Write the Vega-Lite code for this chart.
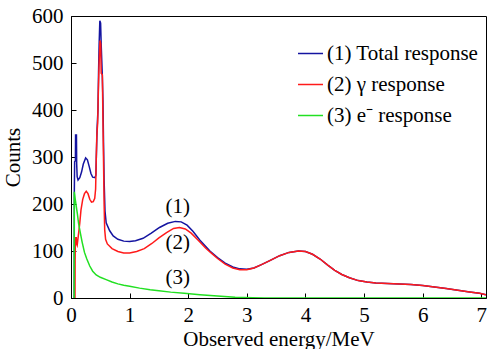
{
  "$schema": "https://vega.github.io/schema/vega-lite/v6.json",
  "width": 415,
  "height": 282,
  "autosize": {"type": "none"},
  "padding": {"left": 71, "top": 16, "right": 1, "bottom": 51},
  "background": "white",
  "config": {
    "font": "Liberation Serif",
    "view": {"stroke": "black", "strokeWidth": 1},
    "axis": {
      "grid": false,
      "domainColor": "black",
      "domainWidth": 1,
      "tickColor": "black",
      "tickWidth": 1,
      "tickSize": -5,
      "labelFlush": false,
      "labelColor": "black",
      "titleColor": "black",
      "labelFont": "Liberation Serif",
      "titleFont": "Liberation Serif",
      "labelFontSize": 21,
      "titleFontSize": 21,
      "titleFontWeight": "normal"
    }
  },
  "layer": [
    {
      "data": {
        "values": [
          {"E": 0.055, "counts": 0, "series": "(1) Total response"},
          {"E": 0.057, "counts": 230, "series": "(1) Total response"},
          {"E": 0.062, "counts": 290, "series": "(1) Total response"},
          {"E": 0.075, "counts": 292, "series": "(1) Total response"},
          {"E": 0.078, "counts": 347, "series": "(1) Total response"},
          {"E": 0.093, "counts": 347, "series": "(1) Total response"},
          {"E": 0.097, "counts": 285, "series": "(1) Total response"},
          {"E": 0.105, "counts": 258, "series": "(1) Total response"},
          {"E": 0.12, "counts": 251, "series": "(1) Total response"},
          {"E": 0.15, "counts": 256, "series": "(1) Total response"},
          {"E": 0.18, "counts": 268, "series": "(1) Total response"},
          {"E": 0.21, "counts": 285, "series": "(1) Total response"},
          {"E": 0.25, "counts": 298, "series": "(1) Total response"},
          {"E": 0.28, "counts": 294, "series": "(1) Total response"},
          {"E": 0.31, "counts": 280, "series": "(1) Total response"},
          {"E": 0.34, "counts": 265, "series": "(1) Total response"},
          {"E": 0.37, "counts": 257, "series": "(1) Total response"},
          {"E": 0.41, "counts": 256, "series": "(1) Total response"},
          {"E": 0.425, "counts": 262, "series": "(1) Total response"},
          {"E": 0.432, "counts": 300, "series": "(1) Total response"},
          {"E": 0.445, "counts": 360, "series": "(1) Total response"},
          {"E": 0.46, "counts": 400, "series": "(1) Total response"},
          {"E": 0.47, "counts": 480, "series": "(1) Total response"},
          {"E": 0.48, "counts": 540, "series": "(1) Total response"},
          {"E": 0.492, "counts": 590, "series": "(1) Total response"},
          {"E": 0.505, "counts": 585, "series": "(1) Total response"},
          {"E": 0.515, "counts": 540, "series": "(1) Total response"},
          {"E": 0.525, "counts": 505, "series": "(1) Total response"},
          {"E": 0.535, "counts": 470, "series": "(1) Total response"},
          {"E": 0.545, "counts": 420, "series": "(1) Total response"},
          {"E": 0.555, "counts": 330, "series": "(1) Total response"},
          {"E": 0.565, "counts": 250, "series": "(1) Total response"},
          {"E": 0.58, "counts": 185, "series": "(1) Total response"},
          {"E": 0.6, "counts": 160, "series": "(1) Total response"},
          {"E": 0.66, "counts": 143, "series": "(1) Total response"},
          {"E": 0.72, "counts": 132, "series": "(1) Total response"},
          {"E": 0.8, "counts": 125, "series": "(1) Total response"},
          {"E": 0.9, "counts": 121, "series": "(1) Total response"},
          {"E": 1.0, "counts": 120, "series": "(1) Total response"},
          {"E": 1.1, "counts": 122, "series": "(1) Total response"},
          {"E": 1.23, "counts": 127, "series": "(1) Total response"},
          {"E": 1.37, "counts": 138, "series": "(1) Total response"},
          {"E": 1.51, "counts": 150, "series": "(1) Total response"},
          {"E": 1.65, "counts": 159, "series": "(1) Total response"},
          {"E": 1.78, "counts": 163, "series": "(1) Total response"},
          {"E": 1.88, "counts": 162, "series": "(1) Total response"},
          {"E": 1.98, "counts": 155, "series": "(1) Total response"},
          {"E": 2.08, "counts": 142, "series": "(1) Total response"},
          {"E": 2.2, "counts": 123, "series": "(1) Total response"},
          {"E": 2.37, "counts": 100, "series": "(1) Total response"},
          {"E": 2.5, "counts": 86, "series": "(1) Total response"},
          {"E": 2.63, "counts": 74, "series": "(1) Total response"},
          {"E": 2.76, "counts": 66, "series": "(1) Total response"},
          {"E": 2.88, "counts": 62, "series": "(1) Total response"},
          {"E": 3.0, "counts": 61, "series": "(1) Total response"},
          {"E": 3.12, "counts": 64, "series": "(1) Total response"},
          {"E": 3.25, "counts": 71, "series": "(1) Total response"},
          {"E": 3.4, "counts": 80, "series": "(1) Total response"},
          {"E": 3.56, "counts": 90, "series": "(1) Total response"},
          {"E": 3.72, "counts": 97, "series": "(1) Total response"},
          {"E": 3.88, "counts": 100, "series": "(1) Total response"},
          {"E": 4.0, "counts": 99, "series": "(1) Total response"},
          {"E": 4.12, "counts": 93, "series": "(1) Total response"},
          {"E": 4.25, "counts": 83, "series": "(1) Total response"},
          {"E": 4.38, "counts": 70, "series": "(1) Total response"},
          {"E": 4.5, "counts": 59, "series": "(1) Total response"},
          {"E": 4.62, "counts": 50, "series": "(1) Total response"},
          {"E": 4.75, "counts": 43, "series": "(1) Total response"},
          {"E": 4.9, "counts": 37, "series": "(1) Total response"},
          {"E": 5.05, "counts": 34, "series": "(1) Total response"},
          {"E": 5.2, "counts": 32, "series": "(1) Total response"},
          {"E": 5.4, "counts": 31, "series": "(1) Total response"},
          {"E": 5.6, "counts": 30, "series": "(1) Total response"},
          {"E": 5.8, "counts": 28.5, "series": "(1) Total response"},
          {"E": 6.0, "counts": 26.5, "series": "(1) Total response"},
          {"E": 6.2, "counts": 23.5, "series": "(1) Total response"},
          {"E": 6.4, "counts": 20, "series": "(1) Total response"},
          {"E": 6.6, "counts": 16.5, "series": "(1) Total response"},
          {"E": 6.8, "counts": 13, "series": "(1) Total response"},
          {"E": 6.97, "counts": 10, "series": "(1) Total response"},
          {"E": 7.08, "counts": 7, "series": "(1) Total response"},

          {"E": 0.068, "counts": 0, "series": "(2) γ response"},
          {"E": 0.07, "counts": 80, "series": "(2) γ response"},
          {"E": 0.075, "counts": 128, "series": "(2) γ response"},
          {"E": 0.09, "counts": 128, "series": "(2) γ response"},
          {"E": 0.095, "counts": 115, "series": "(2) γ response"},
          {"E": 0.105, "counts": 112, "series": "(2) γ response"},
          {"E": 0.115, "counts": 122, "series": "(2) γ response"},
          {"E": 0.13, "counts": 138, "series": "(2) γ response"},
          {"E": 0.15, "counts": 160, "series": "(2) γ response"},
          {"E": 0.17, "counts": 187, "series": "(2) γ response"},
          {"E": 0.2, "counts": 210, "series": "(2) γ response"},
          {"E": 0.23, "counts": 222, "series": "(2) γ response"},
          {"E": 0.26, "counts": 227, "series": "(2) γ response"},
          {"E": 0.29, "counts": 222, "series": "(2) γ response"},
          {"E": 0.32, "counts": 210, "series": "(2) γ response"},
          {"E": 0.35, "counts": 204, "series": "(2) γ response"},
          {"E": 0.38, "counts": 205, "series": "(2) γ response"},
          {"E": 0.405, "counts": 212, "series": "(2) γ response"},
          {"E": 0.42, "counts": 232, "series": "(2) γ response"},
          {"E": 0.43, "counts": 290, "series": "(2) γ response"},
          {"E": 0.44, "counts": 345, "series": "(2) γ response"},
          {"E": 0.455, "counts": 372, "series": "(2) γ response"},
          {"E": 0.465, "counts": 430, "series": "(2) γ response"},
          {"E": 0.478, "counts": 495, "series": "(2) γ response"},
          {"E": 0.495, "counts": 548, "series": "(2) γ response"},
          {"E": 0.507, "counts": 540, "series": "(2) γ response"},
          {"E": 0.515, "counts": 478, "series": "(2) γ response"},
          {"E": 0.535, "counts": 475, "series": "(2) γ response"},
          {"E": 0.545, "counts": 380, "series": "(2) γ response"},
          {"E": 0.555, "counts": 290, "series": "(2) γ response"},
          {"E": 0.565, "counts": 200, "series": "(2) γ response"},
          {"E": 0.575, "counts": 145, "series": "(2) γ response"},
          {"E": 0.59, "counts": 125, "series": "(2) γ response"},
          {"E": 0.62, "counts": 115, "series": "(2) γ response"},
          {"E": 0.7, "counts": 105, "series": "(2) γ response"},
          {"E": 0.8, "counts": 99, "series": "(2) γ response"},
          {"E": 0.9, "counts": 96, "series": "(2) γ response"},
          {"E": 1.0, "counts": 96, "series": "(2) γ response"},
          {"E": 1.12, "counts": 99, "series": "(2) γ response"},
          {"E": 1.25, "counts": 105, "series": "(2) γ response"},
          {"E": 1.38, "counts": 116, "series": "(2) γ response"},
          {"E": 1.5, "counts": 128, "series": "(2) γ response"},
          {"E": 1.63, "counts": 139, "series": "(2) γ response"},
          {"E": 1.75, "counts": 148, "series": "(2) γ response"},
          {"E": 1.85, "counts": 150, "series": "(2) γ response"},
          {"E": 1.95, "counts": 147, "series": "(2) γ response"},
          {"E": 2.05, "counts": 138, "series": "(2) γ response"},
          {"E": 2.17, "counts": 123, "series": "(2) γ response"},
          {"E": 2.3, "counts": 106, "series": "(2) γ response"},
          {"E": 2.37, "counts": 98, "series": "(2) γ response"},
          {"E": 2.5, "counts": 84, "series": "(2) γ response"},
          {"E": 2.63, "counts": 72, "series": "(2) γ response"},
          {"E": 2.76, "counts": 64, "series": "(2) γ response"},
          {"E": 2.88, "counts": 60, "series": "(2) γ response"},
          {"E": 3.0, "counts": 60, "series": "(2) γ response"},
          {"E": 3.12, "counts": 64, "series": "(2) γ response"},
          {"E": 3.25, "counts": 71, "series": "(2) γ response"},
          {"E": 3.4, "counts": 80, "series": "(2) γ response"},
          {"E": 3.56, "counts": 90, "series": "(2) γ response"},
          {"E": 3.72, "counts": 97, "series": "(2) γ response"},
          {"E": 3.88, "counts": 100, "series": "(2) γ response"},
          {"E": 4.0, "counts": 99, "series": "(2) γ response"},
          {"E": 4.12, "counts": 93, "series": "(2) γ response"},
          {"E": 4.25, "counts": 83, "series": "(2) γ response"},
          {"E": 4.38, "counts": 70, "series": "(2) γ response"},
          {"E": 4.5, "counts": 59, "series": "(2) γ response"},
          {"E": 4.62, "counts": 50, "series": "(2) γ response"},
          {"E": 4.75, "counts": 43, "series": "(2) γ response"},
          {"E": 4.9, "counts": 37, "series": "(2) γ response"},
          {"E": 5.05, "counts": 34, "series": "(2) γ response"},
          {"E": 5.2, "counts": 32, "series": "(2) γ response"},
          {"E": 5.4, "counts": 31, "series": "(2) γ response"},
          {"E": 5.6, "counts": 30, "series": "(2) γ response"},
          {"E": 5.8, "counts": 28.5, "series": "(2) γ response"},
          {"E": 6.0, "counts": 26.5, "series": "(2) γ response"},
          {"E": 6.2, "counts": 23.5, "series": "(2) γ response"},
          {"E": 6.4, "counts": 20, "series": "(2) γ response"},
          {"E": 6.6, "counts": 16.5, "series": "(2) γ response"},
          {"E": 6.8, "counts": 13, "series": "(2) γ response"},
          {"E": 6.97, "counts": 10, "series": "(2) γ response"},
          {"E": 7.08, "counts": 7, "series": "(2) γ response"},

          {"E": 0.053, "counts": 0, "series": "(3) e⁻ response"},
          {"E": 0.056, "counts": 226, "series": "(3) e⁻ response"},
          {"E": 0.07, "counts": 212, "series": "(3) e⁻ response"},
          {"E": 0.09, "counts": 195, "series": "(3) e⁻ response"},
          {"E": 0.11, "counts": 178, "series": "(3) e⁻ response"},
          {"E": 0.13, "counts": 158, "series": "(3) e⁻ response"},
          {"E": 0.16, "counts": 138, "series": "(3) e⁻ response"},
          {"E": 0.19, "counts": 119, "series": "(3) e⁻ response"},
          {"E": 0.23, "counts": 97, "series": "(3) e⁻ response"},
          {"E": 0.27, "counts": 83, "series": "(3) e⁻ response"},
          {"E": 0.32, "counts": 68, "series": "(3) e⁻ response"},
          {"E": 0.37, "counts": 57, "series": "(3) e⁻ response"},
          {"E": 0.43, "counts": 49, "series": "(3) e⁻ response"},
          {"E": 0.5, "counts": 44, "series": "(3) e⁻ response"},
          {"E": 0.6, "counts": 39, "series": "(3) e⁻ response"},
          {"E": 0.7, "counts": 34, "series": "(3) e⁻ response"},
          {"E": 0.8, "counts": 30, "series": "(3) e⁻ response"},
          {"E": 0.9, "counts": 27, "series": "(3) e⁻ response"},
          {"E": 1.0, "counts": 25, "series": "(3) e⁻ response"},
          {"E": 1.17, "counts": 21, "series": "(3) e⁻ response"},
          {"E": 1.35, "counts": 17.5, "series": "(3) e⁻ response"},
          {"E": 1.5, "counts": 15.5, "series": "(3) e⁻ response"},
          {"E": 1.7, "counts": 12.5, "series": "(3) e⁻ response"},
          {"E": 1.93, "counts": 10, "series": "(3) e⁻ response"},
          {"E": 2.2, "counts": 7, "series": "(3) e⁻ response"},
          {"E": 2.5, "counts": 4, "series": "(3) e⁻ response"},
          {"E": 2.8, "counts": 1.5, "series": "(3) e⁻ response"},
          {"E": 3.1, "counts": 0.3, "series": "(3) e⁻ response"},
          {"E": 3.3, "counts": 0, "series": "(3) e⁻ response"},
          {"E": 7.08, "counts": 0, "series": "(3) e⁻ response"}
        ]
      },
      "mark": {"type": "line", "strokeWidth": 1.5, "clip": true},
      "encoding": {
        "x": {
          "field": "E",
          "type": "quantitative",
          "scale": {"domain": [0, 7.08], "nice": false},
          "axis": {
            "title": "Observed energy/MeV",
            "values": [0, 1, 2, 3, 4, 5, 6, 7],
            "format": "d",
            "labelPadding": 11,
            "titlePadding": 3
          }
        },
        "y": {
          "field": "counts",
          "type": "quantitative",
          "scale": {"domain": [0, 600], "nice": false},
          "axis": {
            "title": "Counts",
            "values": [0, 100, 200, 300, 400, 500, 600],
            "labelPadding": 13,
            "titlePadding": 8
          }
        },
        "color": {
          "field": "series",
          "type": "nominal",
          "scale": {
            "domain": ["(1) Total response", "(2) γ response", "(3) e⁻ response"],
            "range": ["#1414a0", "#ff1a1a", "#22e022"]
          },
          "legend": {
            "orient": "none",
            "legendX": 226,
            "legendY": 24,
            "title": null,
            "padding": 0,
            "symbolType": "stroke",
            "symbolSize": 625,
            "symbolStrokeWidth": 1.5,
            "labelFont": "Liberation Serif",
            "labelFontSize": 21,
            "labelColor": "black",
            "labelOffset": 3,
            "rowPadding": 7
          }
        }
      }
    },
    {
      "data": {
        "values": [
          {"E": 1.82, "counts": 193, "label": "(1)"},
          {"E": 1.82, "counts": 118, "label": "(2)"},
          {"E": 1.82, "counts": 42, "label": "(3)"}
        ]
      },
      "mark": {
        "type": "text",
        "font": "Liberation Serif",
        "fontSize": 21,
        "color": "black",
        "align": "center",
        "baseline": "middle"
      },
      "encoding": {
        "x": {"field": "E", "type": "quantitative"},
        "y": {"field": "counts", "type": "quantitative"},
        "text": {"field": "label"}
      }
    }
  ]
}
